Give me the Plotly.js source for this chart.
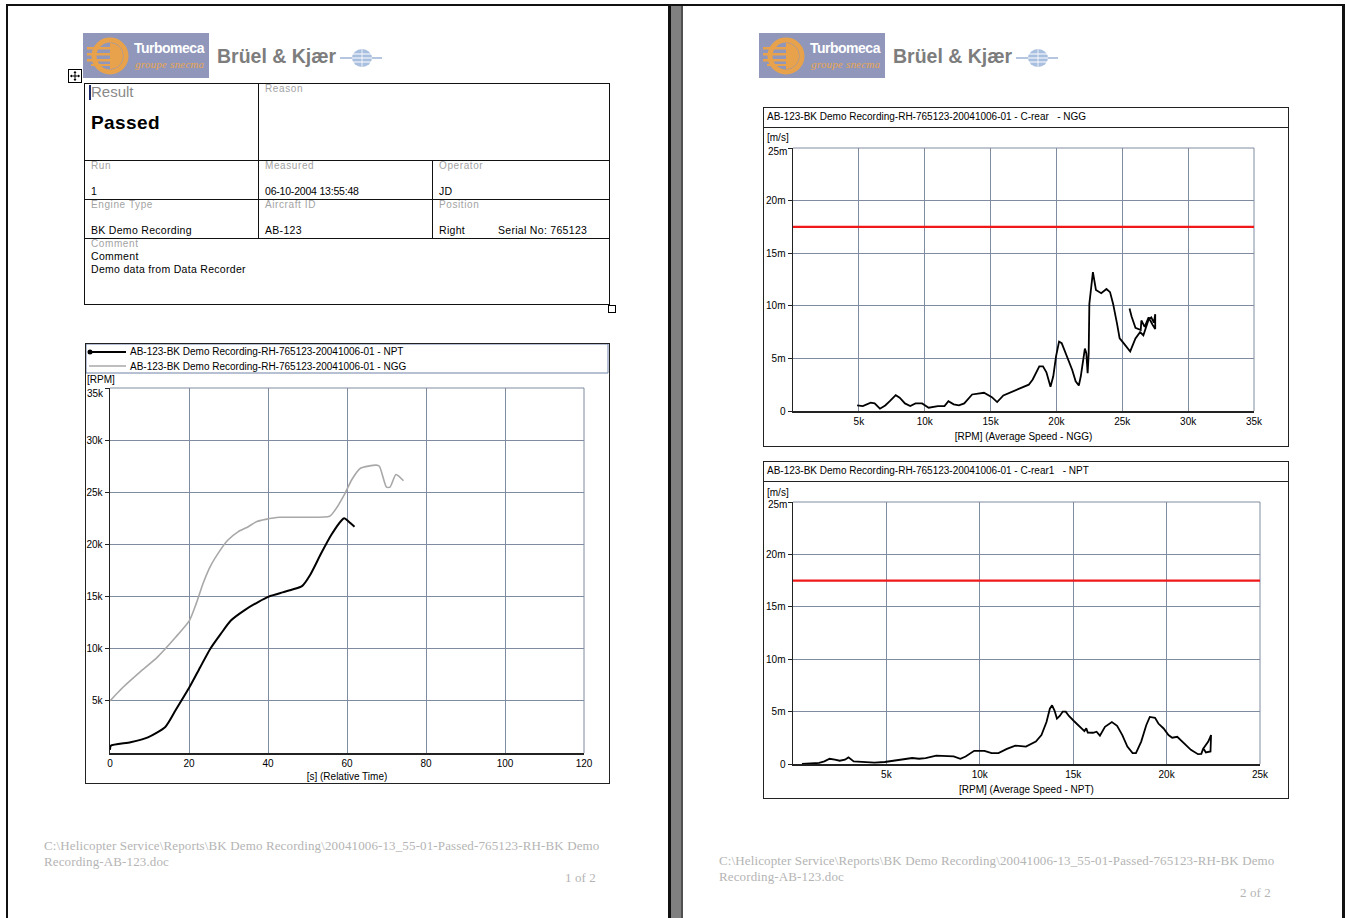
<!DOCTYPE html>
<html><head><meta charset="utf-8">
<script src="https://cdn.plot.ly/plotly-3.0.1.min.js"></script>
<style>
html,body{margin:0;padding:0;background:#fff;}
body{width:1347px;height:918px;position:relative;overflow:hidden;font-family:"Liberation Sans",Arial,sans-serif;}
.a{position:absolute;}
.bk{position:absolute;background:#111;}
.lbl{position:absolute;font-size:10px;color:#a3a3a3;letter-spacing:0.6px;line-height:12px;white-space:nowrap;}
.val{position:absolute;font-size:10.5px;color:#000;letter-spacing:0.3px;line-height:12px;white-space:nowrap;}
.foot{position:absolute;font-family:"Liberation Serif","Times New Roman",serif;font-size:13px;letter-spacing:0.13px;color:#b4b4b4;white-space:nowrap;line-height:16px;}
.bkname{position:absolute;font-weight:bold;font-size:19.5px;color:#7d7d7d;line-height:24px;white-space:nowrap;}
.frame{position:absolute;border:1px solid #222;box-sizing:border-box;pointer-events:none;}
.chart{position:absolute;}
.logotxt{position:absolute;white-space:nowrap;}
</style></head>
<body>
<!-- page frame -->
<div class="bk" style="left:6px;top:4px;width:1339px;height:2px;"></div>
<div class="bk" style="left:6px;top:4px;width:2px;height:914px;"></div>
<div class="bk" style="left:668px;top:4px;width:3px;height:914px;"></div>
<div class="a" style="left:671px;top:6px;width:10px;height:912px;background:#808080;"></div>
<div class="a" style="left:681px;top:6px;width:2px;height:912px;background:#505050;"></div>
<div class="bk" style="left:1342px;top:4px;width:3px;height:914px;"></div>

<!-- logos -->
<div class="a" id="logoWrapL" style="left:83px;top:33px;width:126px;height:45px;"></div>
<div class="bkname" style="left:217px;top:44px;">Brüel &amp; Kjær</div>
<svg class="a" style="left:340px;top:45px" width="42" height="24" id="globeL"></svg>
<div class="a" id="logoWrapR" style="left:759px;top:33px;width:126px;height:45px;"></div>
<div class="bkname" style="left:893px;top:44px;">Brüel &amp; Kjær</div>
<svg class="a" style="left:1016px;top:45px" width="42" height="24" id="globeR"></svg>

<!-- table -->
<svg class="a" style="left:68px;top:69px" width="15" height="15">
 <rect x="0.5" y="0.5" width="13" height="13" fill="#fff" stroke="#000"/>
 <path d="M7 2.5 V11.5 M2.5 7 H11.5" stroke="#000" stroke-width="1"/>
 <path d="M7 2 L5.5 4 H8.5 Z M7 12 L5.5 10 H8.5 Z M2 7 L4 5.5 V8.5 Z M12 7 L10 5.5 V8.5 Z" fill="#000"/>
</svg>
<div class="bk" style="left:84px;top:83px;width:526px;height:1px;"></div>
<div class="bk" style="left:84px;top:160px;width:526px;height:1px;"></div>
<div class="bk" style="left:84px;top:199px;width:526px;height:1px;"></div>
<div class="bk" style="left:84px;top:238px;width:526px;height:1px;"></div>
<div class="bk" style="left:84px;top:304px;width:526px;height:1px;"></div>
<div class="bk" style="left:84px;top:83px;width:1px;height:222px;"></div>
<div class="bk" style="left:609px;top:83px;width:1px;height:222px;"></div>
<div class="bk" style="left:258px;top:83px;width:1px;height:156px;"></div>
<div class="bk" style="left:432px;top:160px;width:1px;height:79px;"></div>
<div class="a" style="left:608px;top:305px;width:6px;height:6px;border:1px solid #000;background:#fff;"></div>

<div class="a" style="left:89px;top:85px;width:2px;height:15px;background:#1a2a6a;"></div>
<div class="a" style="left:91px;top:83px;font-size:15px;color:#8a8a8a;line-height:18px;">Result</div>
<div class="a" style="left:91px;top:112px;font-size:19px;font-weight:bold;color:#000;line-height:22px;letter-spacing:0.4px;">Passed</div>
<div class="lbl" style="left:265px;top:83px;">Reason</div>
<div class="lbl" style="left:91px;top:160px;">Run</div>
<div class="val" style="left:91px;top:185px;">1</div>
<div class="lbl" style="left:265px;top:160px;">Measured</div>
<div class="val" style="left:265px;top:185px;letter-spacing:-0.2px;">06-10-2004 13:55:48</div>
<div class="lbl" style="left:439px;top:160px;">Operator</div>
<div class="val" style="left:439px;top:185px;">JD</div>
<div class="lbl" style="left:91px;top:199px;">Engine Type</div>
<div class="val" style="left:91px;top:224px;">BK Demo Recording</div>
<div class="lbl" style="left:265px;top:199px;">Aircraft ID</div>
<div class="val" style="left:265px;top:224px;">AB-123</div>
<div class="lbl" style="left:439px;top:199px;">Position</div>
<div class="val" style="left:439px;top:224px;">Right</div>
<div class="val" style="left:498px;top:224px;">Serial No: 765123</div>
<div class="lbl" style="left:91px;top:238px;">Comment</div>
<div class="val" style="left:91px;top:250px;">Comment</div>
<div class="val" style="left:91px;top:263px;">Demo data from Data Recorder</div>

<!-- charts -->
<div class="chart" id="chartTime" style="left:85px;top:343px;width:524px;height:440px;"></div>
<div class="frame" style="left:85px;top:343px;width:525px;height:441px;"></div>

<div class="chart" id="chartNGG" style="left:763px;top:107px;width:525px;height:339px;"></div>
<div class="frame" style="left:763px;top:107px;width:526px;height:340px;"></div>
<div class="bk" style="left:763px;top:127px;width:526px;height:1px;background:#222;"></div>

<div class="chart" id="chartNPT" style="left:763px;top:461px;width:525px;height:337px;"></div>
<div class="frame" style="left:763px;top:461px;width:526px;height:338px;"></div>
<div class="bk" style="left:763px;top:481px;width:526px;height:1px;background:#222;"></div>

<!-- footers -->
<div class="foot" style="left:44px;top:838px;">C:\Helicopter Service\Reports\BK Demo Recording\20041006-13_55-01-Passed-765123-RH-BK Demo</div>
<div class="foot" style="left:44px;top:854px;">Recording-AB-123.doc</div>
<div class="foot" style="left:536px;top:870px;width:60px;text-align:right;">1 of 2</div>
<div class="foot" style="left:719px;top:853px;">C:\Helicopter Service\Reports\BK Demo Recording\20041006-13_55-01-Passed-765123-RH-BK Demo</div>
<div class="foot" style="left:719px;top:869px;">Recording-AB-123.doc</div>
<div class="foot" style="left:1211px;top:885px;width:60px;text-align:right;">2 of 2</div>

<script>
// ---------------- DATA ----------------
const seriesNames = [
  'AB-123-BK Demo Recording-RH-765123-20041006-01 - NPT',
  'AB-123-BK Demo Recording-RH-765123-20041006-01 - NGG'
];
const timeNPT = [0, 0.2, 5.2, 9.6, 14, 16.6, 20.1, 22.8, 25.4, 28, 30.6, 34.1, 37.6, 40.2, 43.7, 46.4, 48.6, 50.7, 53.4, 56, 58.6, 59.3, 60.4, 61.9];
const rpmNPT = [300, 700, 1030, 1500, 2500, 4100, 6300, 8200, 10000, 11400, 12700, 13700, 14500, 15000, 15400, 15700, 16000, 17100, 19100, 20900, 22300, 22500, 22200, 21700];
const timeNGG = [0, 3.3, 7.7, 12, 16.6, 20.1, 21.8, 23.6, 25.4, 28, 29.8, 32.4, 35, 37.2, 39.4, 42.9, 49, 55.6, 57, 59.5, 61.2, 63.4, 67.4, 68.2, 70, 70.9, 72.4, 74.3];
const rpmNGG = [5000, 6300, 7800, 9200, 11100, 12700, 14300, 16300, 17900, 19500, 20400, 21200, 21700, 22200, 22400, 22600, 22600, 22700, 23300, 24900, 26200, 27300, 27600, 27500, 25500, 25500, 26700, 26100];

const timeTicks = [0, 20, 40, 60, 80, 100, 120];
const rpmTicksTime = [5000, 10000, 15000, 20000, 25000, 30000, 35000];
const rpmTickTextTime = ['5k', '10k', '15k', '20k', '25k', '30k', '35k'];

const cRearTitle = 'AB-123-BK Demo Recording-RH-765123-20041006-01 - C-rear\u00a0\u00a0\u00a0- NGG';
const cRear1Title = 'AB-123-BK Demo Recording-RH-765123-20041006-01 - C-rear1\u00a0\u00a0\u00a0- NPT';

const nggRpm = [4870, 5300, 5900, 6200, 6600, 7000, 7350, 7800, 8100, 8500, 8900, 9300, 9800, 10300, 11000, 11500, 11800, 12200, 12600, 13000, 13600, 14100, 14500, 15100, 15500, 15970, 16600, 17100, 17900, 18200, 18700, 18980, 19240, 19550, 19760, 19970, 20200, 20400, 20700, 20950, 21200, 21460, 21700, 21850, 22050, 22160, 22270, 22370, 22450, 22500, 22770, 22900, 23000, 23400, 23800, 24070, 24300, 24600, 24800, 25100, 25600, 26000, 26350, 26600, 26800, 27000, 27200, 27400, 27500, 27500, 27300, 27000, 26700, 26450, 26400, 26000, 25700, 25550, 25600];
const nggVel = [0.53, 0.47, 0.79, 0.72, 0.22, 0.53, 0.94, 1.5, 1.26, 0.72, 0.47, 0.72, 0.72, 0.31, 0.47, 0.47, 0.94, 0.63, 0.53, 0.72, 1.57, 1.64, 1.73, 1.32, 0.85, 1.48, 1.79, 2.1, 2.5, 3.0, 4.25, 4.25, 3.68, 2.3, 3.3, 5.2, 6.6, 6.45, 5.5, 4.56, 3.9, 2.83, 2.42, 3.3, 5.2, 5.94, 5.5, 3.6, 5.5, 10.2, 13.2, 12.26, 11.5, 11.2, 11.6, 11.3, 10.2, 8.3, 6.9, 6.45, 5.66, 6.9, 7.5, 7.2, 8.0, 8.7, 8.9, 8.4, 9.2, 7.8, 8.2, 8.9, 8.0, 8.6, 7.7, 7.9, 9.0, 9.75, 9.5];

const nptRpm = [480, 850, 1130, 1400, 1680, 1960, 2240, 2500, 2780, 2970, 3250, 3800, 4360, 4910, 5460, 6000, 6380, 6750, 7100, 7670, 8200, 8600, 8960, 9240, 9700, 10250, 10630, 11000, 11450, 11900, 12470, 12830, 13000, 13300, 13570, 13750, 13870, 14000, 14130, 14280, 14440, 14600, 14770, 15050, 15330, 15600, 15700, 15780, 16060, 16250, 16430, 16700, 17070, 17350, 17630, 17900, 18180, 18360, 18640, 18910, 19100, 19380, 19560, 19840, 20100, 20300, 20570, 20940, 21300, 21680, 21860, 21950, 22230, 22380, 22350, 22100, 22000];
const nptVel = [0, 0.06, 0.1, 0.1, 0.25, 0.5, 0.41, 0.31, 0.41, 0.63, 0.25, 0.19, 0.13, 0.19, 0.31, 0.44, 0.57, 0.5, 0.57, 0.79, 0.72, 0.72, 0.5, 0.72, 1.26, 1.26, 1.04, 1.04, 1.44, 1.76, 1.66, 1.98, 2.14, 2.76, 4.0, 5.28, 5.6, 5.1, 4.33, 4.58, 5.0, 5.0, 4.58, 4.08, 3.55, 3.14, 3.4, 3.0, 2.98, 3.08, 2.7, 3.55, 4.0, 3.64, 2.76, 1.66, 1.04, 1.04, 2.14, 3.7, 4.49, 4.4, 3.86, 3.39, 2.76, 2.51, 2.6, 1.98, 1.35, 0.94, 0.97, 1.44, 2.14, 2.76, 1.2, 1.1, 1.4];

const velLimit = [17.5, 17.5];
const nggRpmRange = [0, 35000];
const nptRpmRange = [0, 25000];
const velRange = [0, 25];
const velTicks = [0, 5, 10, 15, 20, 25];
const velTickText = ['0', '5m', '10m', '15m', '20m', '25m'];
const nggRpmTicks = [5000, 10000, 15000, 20000, 25000, 30000, 35000];
const nggRpmTickText = ['5k', '10k', '15k', '20k', '25k', '30k', '35k'];
const nptRpmTicks = [5000, 10000, 15000, 20000, 25000];
const nptRpmTickText = ['5k', '10k', '15k', '20k', '25k'];

// ---------------- STYLE ----------------
const GRID = '#7f8ca0';
const FONT = '"Liberation Sans", Arial, sans-serif';
const tf = {family: FONT, size: 10, color: '#000'};
const cfg = {displayModeBar: false, staticPlot: true};

function xAx(range, tv, tt, title, standoff) {
  return {range: range, tickvals: tv, ticktext: tt, showgrid: true, gridcolor: GRID, gridwidth: 1,
    zeroline: false, showline: true, linecolor: '#222', linewidth: 1.5, ticks: '',
    tickfont: tf, title: {text: title, font: tf, standoff: standoff}, fixedrange: true};
}
// the top tick label is drawn as an annotation a few px lower (as in the reference) so it clears the unit label
function yAx(range, tv, tt) {
  const shown = tt.slice(0, -1).concat(['']);
  return {range: range, tickvals: tv, ticktext: shown, showgrid: true, gridcolor: GRID, gridwidth: 1,
    zeroline: false, showline: true, linecolor: '#222', linewidth: 1.5, ticks: 'outside', ticklen: 4,
    tickcolor: '#222', tickwidth: 1, tickfont: tf, fixedrange: true};
}
function px2paper(W, H, m) {
  const pw = W - m.l - m.r, ph = H - m.t - m.b;
  return {x: p => (p - m.l) / pw, y: p => (H - m.b - p) / ph};
}
function edgeGrid() {
  return [
    {type: 'line', xref: 'paper', yref: 'paper', x0: 1, x1: 1, y0: 0, y1: 1, line: {color: GRID, width: 1}, layer: 'below'},
    {type: 'line', xref: 'paper', yref: 'paper', x0: 0, x1: 1, y0: 1, y1: 1, line: {color: GRID, width: 1}, layer: 'below'}
  ];
}

// ---------- Left chart: RPM vs time ----------
(function() {
  const W = 524, H = 440, m = {l: 25, r: 25, t: 45, b: 30};
  const P = px2paper(W, H, m);
  const traces = [
    {x: timeNGG, y: rpmNGG, name: seriesNames[1], mode: 'lines', line: {color: '#a8a8a8', width: 1.6, shape: 'spline', smoothing: 0.6}},
    {x: timeNPT, y: rpmNPT, name: seriesNames[0], mode: 'lines', line: {color: '#000', width: 2, shape: 'spline', smoothing: 0.6}}
  ];
  const shapes = edgeGrid().concat([
    {type: 'rect', xref: 'paper', yref: 'paper', x0: P.x(1), x1: P.x(523), y0: P.y(1), y1: P.y(30), line: {color: '#6f82a6', width: 1}, fillcolor: 'rgba(0,0,0,0)'},
    {type: 'line', xref: 'paper', yref: 'paper', x0: P.x(4), x1: P.x(41), y0: P.y(9), y1: P.y(9), line: {color: '#000', width: 2}},
    {type: 'circle', xref: 'paper', yref: 'paper', xsizemode: 'pixel', ysizemode: 'pixel', xanchor: P.x(5), yanchor: P.y(9), x0: -2.5, x1: 2.5, y0: -2.5, y1: 2.5, fillcolor: '#000', line: {width: 0}},
    {type: 'line', xref: 'paper', yref: 'paper', x0: P.x(4), x1: P.x(41), y0: P.y(23), y1: P.y(23), line: {color: '#a8a8a8', width: 1.6}}
  ]);
  const ann = [
    {xref: 'paper', yref: 'paper', x: P.x(43), y: P.y(9), text: seriesNames[0], showarrow: false, xanchor: 'left', yanchor: 'middle', font: tf},
    {xref: 'paper', yref: 'paper', x: P.x(43), y: P.y(23), text: seriesNames[1], showarrow: false, xanchor: 'left', yanchor: 'middle', font: tf},
    {xref: 'paper', yref: 'paper', x: P.x(0), y: P.y(36), text: '[RPM]', showarrow: false, xanchor: 'left', yanchor: 'middle', font: tf},
    {xref: 'paper', yref: 'paper', x: P.x(21), y: P.y(50), text: rpmTickTextTime[rpmTickTextTime.length - 1], showarrow: false, xanchor: 'right', yanchor: 'middle', font: tf}
  ];
  Plotly.newPlot('chartTime', traces, {
    width: W, height: H, margin: m, showlegend: false,
    paper_bgcolor: 'rgba(0,0,0,0)', plot_bgcolor: '#fff',
    xaxis: xAx([0, 120], timeTicks, timeTicks.map(String), '[s] (Relative Time)', 5),
    yaxis: yAx([0, 35000], rpmTicksTime, rpmTickTextTime),
    shapes: shapes, annotations: ann
  }, cfg);
})();

// ---------- Right charts ----------
function velChart(id, W, H, m, xs, ys, xRange, xt, xtt, title, xTitle) {
  const P = px2paper(W, H, m);
  const traces = [
    {x: xs, y: ys, mode: 'lines', line: {color: '#000', width: 1.8}, name: title},
    {x: xRange, y: velLimit, mode: 'lines', line: {color: '#f01818', width: 2.2}, name: 'limit'}
  ];
  const ann = [
    {xref: 'paper', yref: 'paper', x: P.x(2), y: P.y(9), text: title, showarrow: false, xanchor: 'left', yanchor: 'middle', font: tf},
    {xref: 'paper', yref: 'paper', x: P.x(2), y: P.y(31), text: '[m/s]', showarrow: false, xanchor: 'left', yanchor: 'middle', font: tf},
    {xref: 'paper', yref: 'paper', x: P.x(m.l - 4), y: P.y(m.t + 3), text: velTickText[velTickText.length - 1], showarrow: false, xanchor: 'right', yanchor: 'middle', font: tf}
  ];
  Plotly.newPlot(id, traces, {
    width: W, height: H, margin: m, showlegend: false,
    paper_bgcolor: 'rgba(0,0,0,0)', plot_bgcolor: '#fff',
    xaxis: xAx(xRange, xt, xtt, xTitle, 7),
    yaxis: yAx(velRange, velTicks, velTickText),
    shapes: edgeGrid(), annotations: ann
  }, cfg);
}
velChart('chartNGG', 525, 339, {l: 30, r: 34, t: 41, b: 35}, nggRpm, nggVel, nggRpmRange, nggRpmTicks, nggRpmTickText, cRearTitle, '[RPM] (Average Speed - NGG)');
velChart('chartNPT', 525, 337, {l: 30, r: 28, t: 41, b: 34}, nptRpm, nptVel, nptRpmRange, nptRpmTicks, nptRpmTickText, cRear1Title, '[RPM] (Average Speed - NPT)');

// ---------- Logos ----------
const logoHTML = `
<svg class="a" style="left:0;top:0" width="126" height="45">
 <rect width="126" height="45" fill="#9097bb"/>
 <circle cx="27" cy="23" r="16" fill="none" stroke="#e8a24c" stroke-width="5"/>
 <path d="M27 10 A13 13 0 0 1 27 36 Z" fill="#e8a24c"/>
 <rect x="4" y="14" width="30" height="2.5" fill="#e8a24c"/>
 <rect x="4" y="20" width="30" height="2.5" fill="#e8a24c"/>
 <rect x="4" y="26" width="30" height="2.5" fill="#e8a24c"/>
 <rect x="8" y="31" width="24" height="2" fill="#e8a24c"/>
</svg>
<div class="logotxt" style="left:51px;top:7px;font-size:14px;line-height:16px;font-weight:bold;color:#fff;letter-spacing:-0.5px;">Turbomeca</div>
<div class="logotxt" style="left:52px;top:25px;font-family:'Liberation Serif',serif;font-style:italic;font-size:11px;line-height:13px;color:#eaa650;letter-spacing:0.2px;">groupe snecma</div>`;
const globeSVG = `
 <line x1="0" y1="13" x2="42" y2="13" stroke="#9cb3d6" stroke-width="1.5"/>
 <ellipse cx="22" cy="13" rx="10" ry="9" fill="#a9bfe0"/>
 <line x1="12" y1="9" x2="32" y2="9" stroke="#fff" stroke-width="1"/>
 <line x1="12" y1="13" x2="32" y2="13" stroke="#fff" stroke-width="1"/>
 <line x1="12" y1="17" x2="32" y2="17" stroke="#fff" stroke-width="1"/>
 <line x1="22" y1="4" x2="22" y2="22" stroke="#fff" stroke-width="0.8"/>`;
document.getElementById('logoWrapL').innerHTML = logoHTML;
document.getElementById('logoWrapR').innerHTML = logoHTML;
document.getElementById('globeL').innerHTML = globeSVG;
document.getElementById('globeR').innerHTML = globeSVG;
</script>
</body></html>
